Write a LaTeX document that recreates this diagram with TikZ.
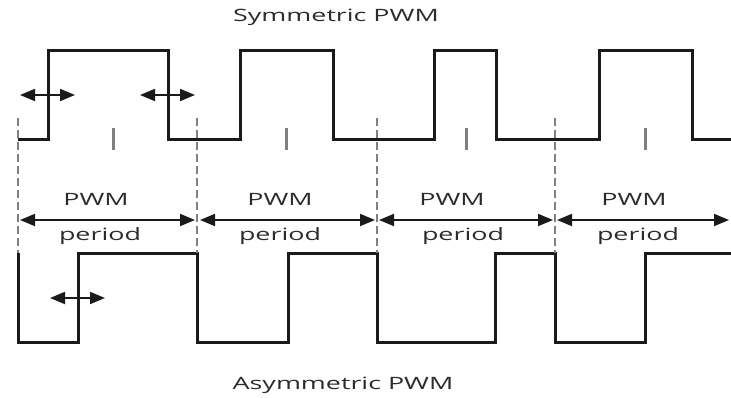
\documentclass[tikz,border=0pt]{standalone}
\usepackage{fontspec}
\setmainfont{Open Sans}[FakeStretch=1.58]
\usetikzlibrary{arrows.meta}

\definecolor{wave}{HTML}{1A1A1A}
\definecolor{txt}{HTML}{2B2B2B}
\definecolor{guide}{HTML}{808080}

\begin{document}
\begin{tikzpicture}[x=1pt, y=-1pt, thick,
    font=\fontsize{17}{20}\selectfont, text=txt,
    sig/.style={wave, line width=3pt, line join=miter},
    bound/.style={guide, line width=2.6pt, dash pattern=on 8pt off 4pt},
    mid/.style={guide, line width=3pt},
    span/.style={wave, line width=1.8pt, {Triangle[length=15pt, width=12pt]}-{Triangle[length=15pt, width=12pt]}}]
  \useasboundingbox (0,0) rectangle (731,397);
  \coordinate (B0) at (18, 118);
  \coordinate (B1) at (197, 118);
  \coordinate (B2) at (377, 118);
  \coordinate (B3) at (555, 118);
  \coordinate (E0) at (18, 253);
  \coordinate (E1) at (197, 253);
  \coordinate (E2) at (377, 253);
  \coordinate (E3) at (555, 253);

  % symmetric
  \draw[sig] (18,139) -- (48,139) -- (48,50) -- (168,50) -- (168,139)
    -- (240,139) -- (240,50) -- (333,50) -- (333,139)
    -- (434,139) -- (434,50) -- (496,50) -- (496,139)
    -- (599,139) -- (599,50) -- (692,50) -- (692,139) -- (731,139);
  % asymmetric
  \draw[sig] (18,253) -- (18,342) -- (78,342) -- (78,253) -- (197,253) -- (197,342)
    -- (288,342) -- (288,253) -- (377,253) -- (377,342)
    -- (495,342) -- (495,253) -- (555,253) -- (555,342)
    -- (645,342) -- (645,253) -- (731,253);

  \draw[bound] (B0) -- (E0);
  \draw[bound] (B1) -- (E1);
  \draw[bound] (B2) -- (E2);
  \draw[bound] (B3) -- (E3);

  \draw[mid] (113,128) -- (113,150);
  \draw[mid] (286,128) -- (286,150);
  \draw[mid] (466,128) -- (466,150);
  \draw[mid] (645,128) -- (645,150);

  \coordinate (L1) at (20, 95);
  \coordinate (R1) at (75, 95);
  \coordinate (L2) at (140, 95);
  \coordinate (R2) at (195, 95);
  \coordinate (L3) at (50, 298);
  \coordinate (R3) at (105, 298);
  \draw[span] (L1) -- (R1);
  \draw[span] (L2) -- (R2);
  \draw[span] (L3) -- (R3);

  \coordinate (T0) at (20, 220);
  \coordinate (T1) at (195, 220);
  \coordinate (T2) at (200, 220);
  \coordinate (T3) at (375, 220);
  \coordinate (T4) at (379, 220);
  \coordinate (T5) at (553, 220);
  \coordinate (T6) at (557, 220);
  \coordinate (T7) at (729, 220);
  \draw[span] (T0) -- (T1);
  \draw[span] (T2) -- (T3);
  \draw[span] (T4) -- (T5);
  \draw[span] (T6) -- (T7);

  \node (pwm1) at (96, 199) {PWM};
  \node (per1) at (100, 236) {period};
  \node (pwm2) at (280, 199) {PWM};
  \node (per2) at (280, 236) {period};
  \node (pwm3) at (452, 199) {PWM};
  \node (per3) at (463, 236) {period};
  \node (pwm4) at (634, 199) {PWM};
  \node (per4) at (638, 236) {period};

  \node (sym)  at (336, 17)  {Symmetric PWM};
  \node (asym) at (343, 385) {Asymmetric PWM};
\end{tikzpicture}
\end{document}
